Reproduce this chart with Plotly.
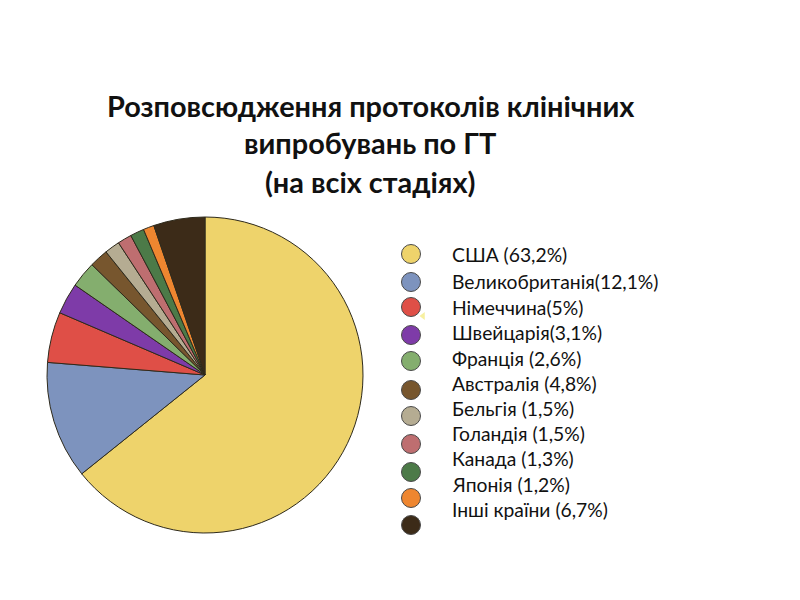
import plotly.graph_objects as go

title_lines = ["Розповсюдження протоколів клінічних", "випробувань по ГТ", "(на всіх стадіях)"]

# slice shares as drawn (they differ a bit from the printed labels)
countries = ["США", "Великобританія", "Німеччина", "Швейцарія", "Франція", "Австралія",
             "Бельгія", "Голандія", "Канада", "Японія", "Інші країни"]
shares = [64.25, 12.03, 5.17, 3.19, 2.67, 1.92, 1.56, 1.44, 1.42, 1.11, 5.25]
colors = ["#EED36B", "#7D93BE", "#DF4F47", "#7E3BA8", "#84AE6E", "#77562E",
          "#B5AC92", "#BE6E70", "#4C7A48", "#EE8630", "#3C2B18"]
legend_labels = ["США (63,2%)", "Великобританія(12,1%)", "Німеччина(5%)", "Швейцарія(3,1%)",
                 "Франція (2,6%)", "Австралія (4,8%)", "Бельгія (1,5%)", "Голандія (1,5%)",
                 "Канада (1,3%)", "Японія (1,2%)", "Інші країни (6,7%)"]

# page layout in pixels; the browser page has an 8px body margin
PAGE_W, PAGE_H = 800, 600
MARGIN = 8
W, H = PAGE_W - MARGIN, PAGE_H - MARGIN
title_y = [105, 142, 181]
marker_y = [254, 282, 307, 335, 361, 390, 416, 444, 472, 498, 525]
label_y = [254, 281, 307, 332, 358, 383, 408, 433, 458, 484, 509]
FONT = "Lato, 'Open Sans', sans-serif"

fig = go.Figure()

fig.add_trace(go.Pie(
    values=shares,
    labels=countries,
    sort=False,
    direction="clockwise",
    rotation=0,
    textinfo="none",
    marker=dict(colors=colors, line=dict(color="#2E2A1C", width=1)),
    domain=dict(x=[(47 - MARGIN) / W, (363 - MARGIN) / W],
                y=[(PAGE_H - 533) / H, (PAGE_H - 217) / H]),
    showlegend=False,
))

# legend dots sit on their own page-sized axes, spacing differs from the text
fig.add_trace(go.Scatter(
    x=[411] * len(marker_y),
    y=marker_y,
    mode="markers",
    marker=dict(size=19, color=colors, line=dict(color="#4A4A4A", width=1)),
    showlegend=False,
))
# small stray yellow mark next to the red dot
fig.add_trace(go.Scatter(
    x=[423], y=[316],
    mode="markers",
    marker=dict(size=7, color="#F7F0A0", symbol="triangle-left"),
    showlegend=False,
))

for line, y in zip(title_lines, title_y):
    fig.add_annotation(text=line, x=370, y=y, xref="x", yref="y", showarrow=False,
                       xanchor="center", yanchor="middle",
                       font=dict(family=FONT, size=28.9, color="#111111", weight="bold"))

for label, y in zip(legend_labels, label_y):
    fig.add_annotation(text=label, x=450, y=y, xref="x", yref="y", showarrow=False,
                       xanchor="left", yanchor="middle",
                       font=dict(family=FONT, size=19.3, color="#111111"))

fig.update_layout(
    width=W,
    height=H,
    margin=dict(l=0, r=0, t=0, b=0),
    paper_bgcolor="white",
    plot_bgcolor="rgba(0,0,0,0)",
    xaxis=dict(range=[MARGIN, PAGE_W], visible=False, fixedrange=True),
    yaxis=dict(range=[PAGE_H, MARGIN], visible=False, fixedrange=True),
)

fig.write_html("out.html")
